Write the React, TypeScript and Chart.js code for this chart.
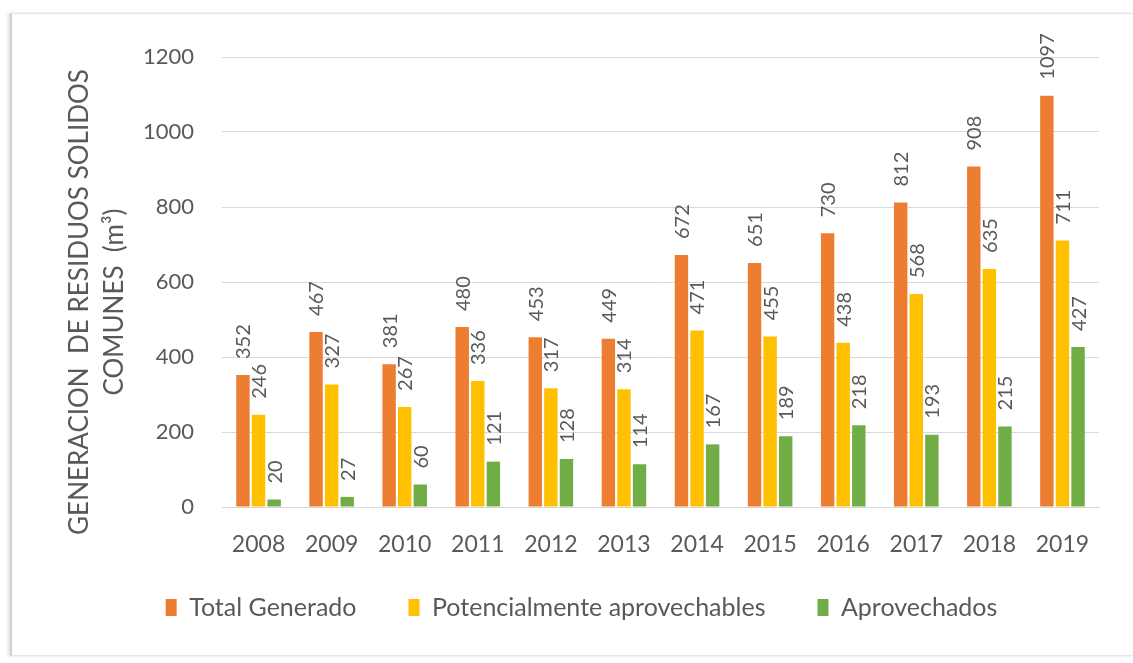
import React, { useEffect, useRef } from "react";
import { Chart, registerables } from "chart.js";

Chart.register(...registerables);

const years = ["2008", "2009", "2010", "2011", "2012", "2013", "2014", "2015", "2016", "2017", "2018", "2019"];
const totalGenerado = [352, 467, 381, 480, 453, 449, 672, 651, 730, 812, 908, 1097];
const potencialmente = [246, 327, 267, 336, 317, 314, 471, 455, 438, 568, 635, 711];
const aprovechados = [20, 27, 60, 121, 128, 114, 167, 189, 218, 193, 215, 427];
const seriesNames = ["Total Generado", "Potencialmente aprovechables", "Aprovechados"];
const seriesColors = ["#ED7D31", "#FFC000", "#70AD47"];
const yTitleLines = ["GENERACION  DE RESIDUOS SOLIDOS", "COMUNES  (m³)"];

const TEXT = "#595959";
const FONT = "Lato";

const valueLabels = {
  id: "valueLabels",
  afterDatasetsDraw(chart: any) {
    const ctx = chart.ctx;
    ctx.save();
    ctx.fillStyle = TEXT;
    ctx.font = `20px ${FONT}`;
    ctx.textAlign = "left";
    ctx.textBaseline = "middle";
    chart.data.datasets.forEach((ds: any, di: number) => {
      const meta = chart.getDatasetMeta(di);
      meta.data.forEach((bar: any, i: number) => {
        ctx.save();
        ctx.translate(bar.x + 1, bar.y - 16);
        ctx.rotate(-Math.PI / 2);
        ctx.fillText(String(ds.data[i]), 0, 0);
        ctx.restore();
      });
    });
    ctx.restore();
  },
};

const yTitle = {
  id: "yTitle",
  afterDraw(chart: any) {
    const ctx = chart.ctx;
    const a = chart.chartArea;
    const cy = (a.top + a.bottom) / 2 + 20;
    ctx.save();
    ctx.fillStyle = TEXT;
    ctx.font = `26px ${FONT}`;
    ctx.textAlign = "center";
    ctx.textBaseline = "middle";
    yTitleLines.forEach((line, i) => {
      ctx.save();
      ctx.translate(68 + i * 35, cy);
      ctx.rotate(-Math.PI / 2);
      ctx.fillText(line, 0, 0);
      ctx.restore();
    });
    ctx.restore();
  },
};

const legendShift = {
  id: "legendShift",
  afterLayout(chart: any) {
    const lg = chart.legend;
    if (lg) {
      lg.top -= 18;
      lg.bottom -= 18;
    }
  },
};

export default function App() {
  const ref = useRef<HTMLCanvasElement | null>(null);
  useEffect(() => {
    if (!ref.current) return;
    const chart = new Chart(ref.current, {
      type: "bar",
      data: {
        labels: years,
        datasets: [totalGenerado, potencialmente, aprovechados].map((d, i) => ({
          label: seriesNames[i],
          data: d,
          backgroundColor: seriesColors[i],
          borderWidth: 0,
          categoryPercentage: 0.64,
          barPercentage: 0.86,
        })),
      },
      options: {
        responsive: false,
        animation: false,
        layout: { padding: { left: 52, right: 34, top: 43, bottom: 7 } },
        plugins: {
          tooltip: { enabled: false },
          legend: {
            position: "bottom",
            labels: {
              boxWidth: 11,
              boxHeight: 17,
              padding: 52,
              color: TEXT,
              font: { family: FONT, size: 25 },
            },
          },
        },
        scales: {
          x: {
            afterFit: (s: any) => {
              s.height = 54;
            },
            grid: { display: false, drawTicks: false },
            border: { display: true, color: "#d9d9d9" },
            ticks: { color: TEXT, font: { family: FONT, size: 23 }, padding: 24 },
          },
          y: {
            min: 0,
            max: 1200,
            afterFit: (s: any) => {
              s.width = 158;
            },
            grid: { color: "#d9d9d9", drawTicks: false },
            border: { display: false },
            ticks: {
              stepSize: 200,
              color: TEXT,
              font: { family: FONT, size: 22 },
              padding: 28,
              callback: (v: any) => String(v),
            },
          },
        },
      },
      plugins: [valueLabels, yTitle, legendShift],
    });
    return () => chart.destroy();
  }, []);
  return (
    <div
      style={{
        position: "absolute",
        left: 10,
        top: 13,
        width: 1123,
        height: 643,
        boxSizing: "border-box",
        borderLeft: "2px solid #cfcfcf",
        borderTop: "1px solid #e6e6e6",
        borderBottom: "1px solid #e6e6e6",
        boxShadow: "-2px 0 3px rgba(0,0,0,0.12)",
        background: "#fff",
        overflow: "hidden",
      }}
    >
      <canvas ref={ref} width={1121} height={641} style={{ display: "block" }} />
    </div>
  );
}
